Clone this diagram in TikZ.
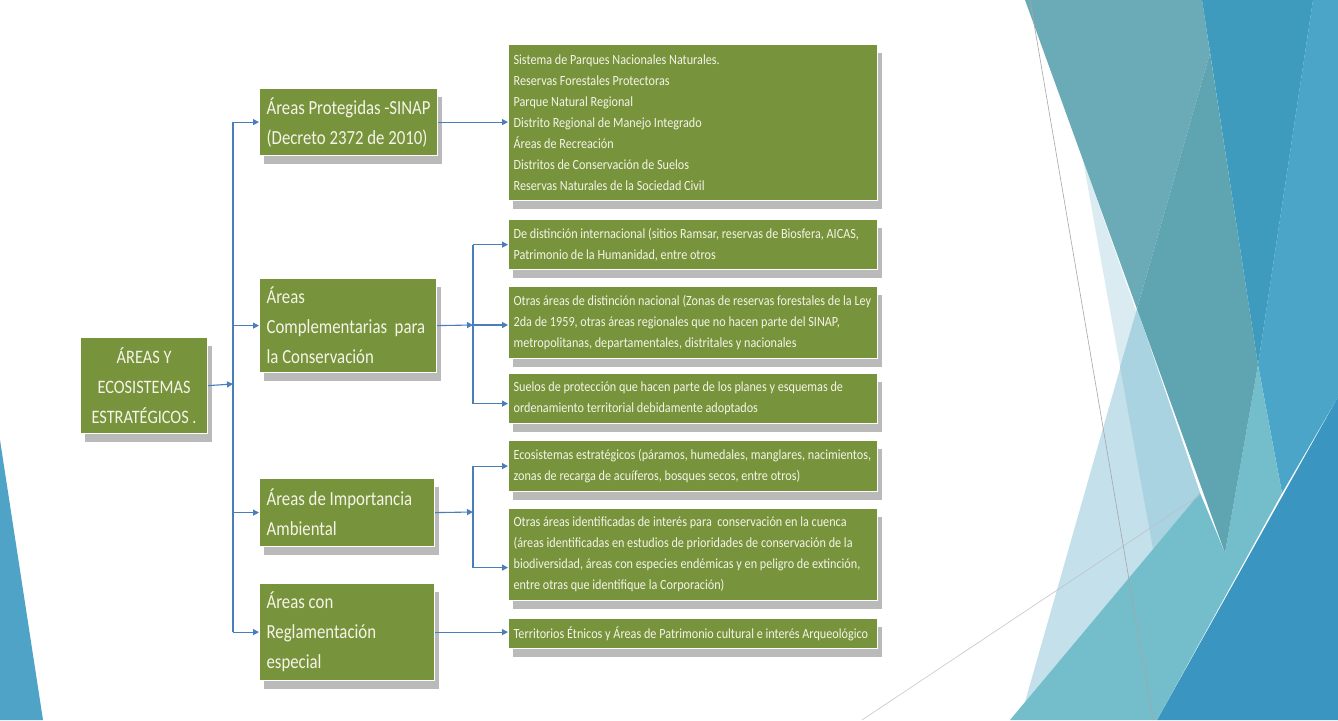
\documentclass[tikz,border=0pt]{standalone}
\usepackage{fontspec}
\setmainfont{Carlito}[FakeStretch=0.86]
\newfontfamily\lvfont{Carlito}[FakeStretch=0.84]
\newfontfamily\rfont{Carlito}[FakeStretch=0.87]
\usetikzlibrary{arrows.meta,shadows}
\definecolor{boxgreen}{HTML}{77933C}
\definecolor{textcream}{HTML}{F6F4E8}
\definecolor{linkblue}{HTML}{4A7EBB}
\definecolor{decA}{HTML}{6BABB8}
\definecolor{decB}{HTML}{5FA4B1}
\definecolor{decC}{HTML}{3F9BBE}
\definecolor{decD}{HTML}{4AA5C8}
\definecolor{decE}{HTML}{3A96C0}
\definecolor{decG}{HTML}{74BECB}
\definecolor{decY}{HTML}{DAECF2}
\definecolor{decX}{HTML}{C4E0EA}
\definecolor{decXY}{HTML}{A9D3E1}
\definecolor{decL}{HTML}{4FA3C6}
\begin{document}
\hyphenpenalty=10000 \exhyphenpenalty=10000
\begin{tikzpicture}[x=1pt,y=-1pt,
  link/.style={draw=linkblue, line width=1.1pt},
  arrowlink/.style={link, -{Triangle[length=6pt,width=6pt]}},
  gbox/.style={anchor=north west, fill=boxgreen, draw=white, line width=1.2pt,
    text=textcream, inner ysep=0pt,
    drop shadow={shadow xshift=4pt, shadow yshift=-8pt, draw=none, fill=black!60, opacity=.45}},
  mainbox/.style={gbox, align=flush left, inner xsep=7pt, font={\lvfont\fontsize{20}{30}\selectfont}},
  rootbox/.style={gbox, align=flush center, inner xsep=4pt, font={\fontsize{19}{30}\selectfont}},
  rbox/.style={gbox, align=flush left, inner xsep=5pt, text width=359pt, font={\rfont\fontsize{14}{21}\selectfont}}]
\useasboundingbox (0,0) rectangle (1338,720);
\fill[white] (0,0) rectangle (1338,720);
% decorations
\fill[decL] (0,440) -- (43,720) -- (0,720) -- cycle;
\fill[decY] (1083,160) -- (1153,549) -- (1200,493) -- cycle;
\fill[decX] (1137,309) -- (1025,702) -- (1200,493) -- cycle;
\fill[decXY] (1120,367) -- (1153,549) -- (1200,493) -- (1137,309) -- cycle;
\fill[decD] (1313,0) -- (1338,0) -- (1338,397) -- (1282,493) -- (1258,365) -- cycle;
\fill[decE] (1338,397) -- (1338,720) -- (1157,720) -- cycle;
\fill[decG] (1010,720) -- (1157,720) -- (1282,493) -- (1258,365) -- (1225,553) -- (1200,493) -- cycle;
\fill[decA] (1025,0) -- (1202,0) -- (1210,53) -- (1137,309) -- cycle;
\fill[decB] (1210,53) -- (1258,365) -- (1225,553) -- (1137,309) -- cycle;
\fill[decC] (1202,0) -- (1313,0) -- (1258,365) -- cycle;
\draw[gray!70, line width=0.6pt] (1030,0) -- (1153,720);
\draw[gray!50, line width=0.5pt] (862,720) -- (1200,495);
% root
\node[rootbox, text width=119pt, minimum height=96pt] (root) at (80,337) {ÁREAS Y\\ECOSISTEMAS\\ESTRATÉGICOS .};
% level 1
\node[mainbox, text width=164pt, minimum height=67pt] (b1) at (259,88) {Áreas Protegidas -SINAP\\(Decreto 2372 de 2010)};
\node[mainbox, text width=163pt, minimum height=94pt] (b2) at (259,278) {Áreas\\Complementarias~ para\\la Conservación};
\node[mainbox, text width=161pt, minimum height=68pt] (b3) at (259,478) {Áreas de Importancia\\Ambiental};
\node[mainbox, text width=161pt, minimum height=97pt] (b4) at (259,583) {Áreas con\\Reglamentación\\especial};
% level 2
\node[rbox, minimum height=156pt] (r1) at (508,44) {Sistema de Parques Nacionales Naturales.\\Reservas Forestales Protectoras\\Parque Natural Regional\\Distrito Regional de Manejo Integrado\\Áreas de Recreación\\Distritos de Conservación de Suelos\\Reservas Naturales de la Sociedad Civil};
\node[rbox, minimum height=50pt] (r2) at (508,219) {De distinción internacional (sitios Ramsar, reservas de Biosfera, AICAS,\\Patrimonio de la Humanidad, entre otros};
\node[rbox, minimum height=72pt] (r3) at (508,286) {Otras áreas de distinción nacional (Zonas de reservas forestales de la Ley\\2da de 1959, otras áreas regionales que no hacen parte del SINAP,\\metropolitanas, departamentales, distritales y nacionales};
\node[rbox, minimum height=50pt] (r4) at (508,373) {Suelos de protección que hacen parte de los planes y esquemas de\\ordenamiento territorial debidamente adoptados};
\node[rbox, minimum height=51pt] (r5) at (508,440) {Ecosistemas estratégicos (páramos, humedales, manglares, nacimientos,\\zonas de recarga de acuíferos, bosques secos, entre otros)};
\node[rbox, minimum height=92pt] (r6) at (508,508) {Otras áreas identificadas de interés para~ conservación en la cuenca\\(áreas identificadas en estudios de prioridades de conservación de la\\biodiversidad, áreas con especies endémicas y en peligro de extinción,\\entre otras que identifique la Corporación)};
\node[rbox, minimum height=30pt] (r7) at (508,618) {Territorios Étnicos y Áreas de Patrimonio cultural e interés Arqueológico};
% connectors
\coordinate (j1) at (233,384);
\coordinate (j2) at (473,325);
\coordinate (j3) at (473,512);
\coordinate (r4in) at ([yshift=-5pt]r4.west);
\coordinate (r6in) at ([yshift=-13pt]r6.west);
\draw[arrowlink] (root.east) -- (j1);
\draw[link] (j1 |- b1.west) -- (j1 |- b4.west);
\draw[arrowlink] (j1 |- b1.west) -- (b1.west);
\draw[arrowlink] (j1 |- b2.west) -- (b2.west);
\draw[arrowlink] (j1 |- b3.west) -- (b3.west);
\draw[arrowlink] (j1 |- b4.west) -- (b4.west);
\draw[arrowlink] (b1.east) -- (b1.east -| r1.west);
\draw[arrowlink] (b2.east) -- (j2);
\draw[link] (j2 |- r2.west) -- (j2 |- r4in);
\draw[arrowlink] (j2 |- r2.west) -- (r2.west);
\draw[arrowlink] (j2) -- (j2 -| r3.west);
\draw[arrowlink] (j2 |- r4in) -- (r4in);
\draw[arrowlink] (b3.east) -- (j3);
\draw[link] (j3 |- r5.west) -- (j3 |- r6in);
\draw[arrowlink] (j3 |- r5.west) -- (r5.west);
\draw[arrowlink] (j3 |- r6in) -- (r6in);
\draw[arrowlink] (b4.east) -- (b4.east -| r7.west);
\end{tikzpicture}
\end{document}
